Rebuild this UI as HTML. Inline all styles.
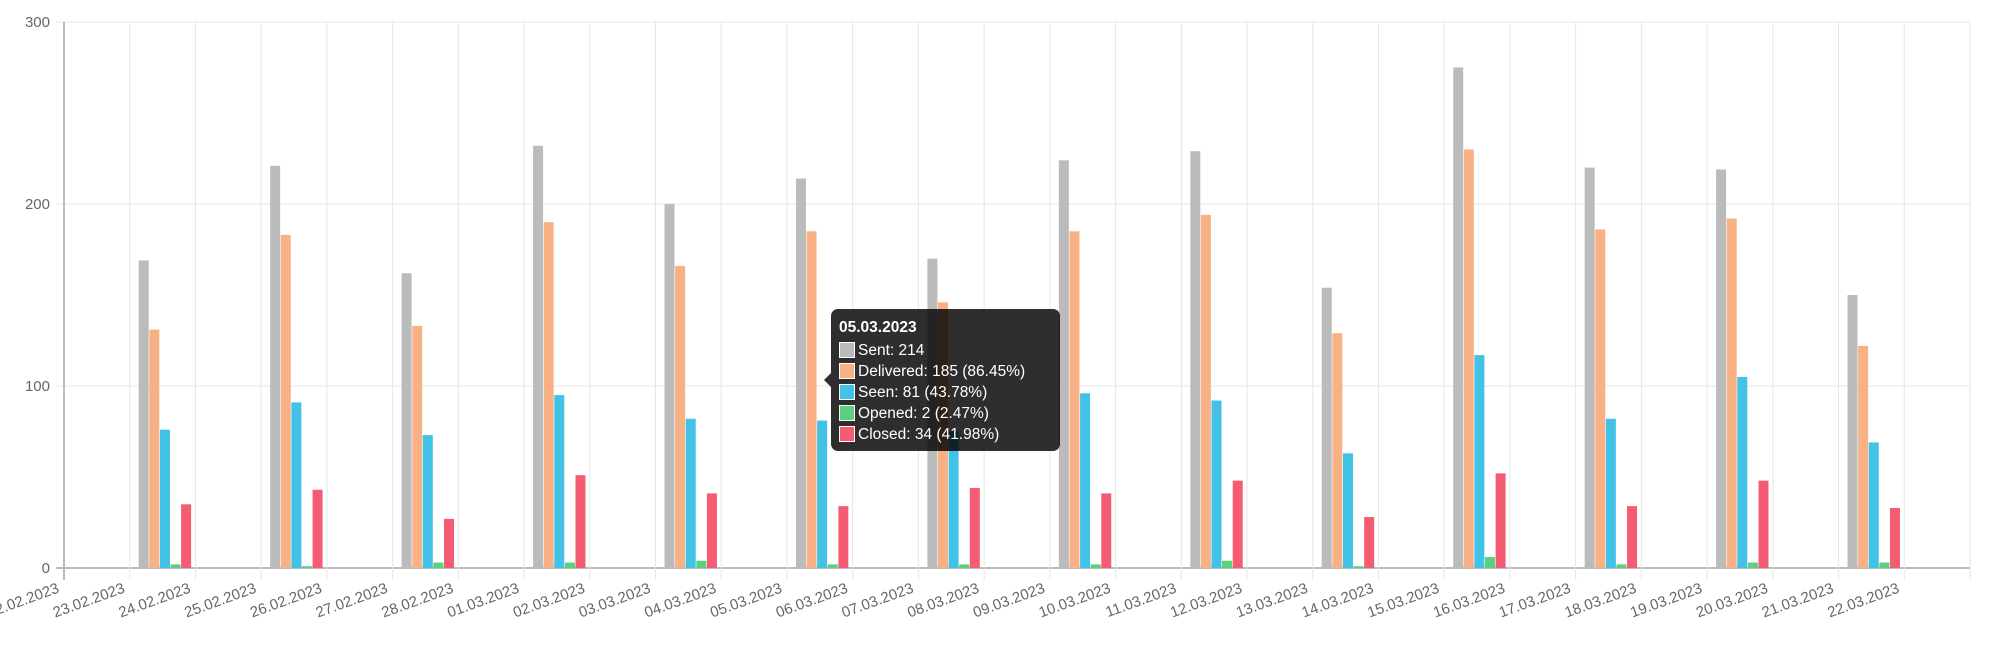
<!DOCTYPE html>
<html><head><meta charset="utf-8"><style>
html,body{margin:0;padding:0;background:#fff;}
svg{display:block;font-family:"Liberation Sans",Arial,sans-serif;}
</style></head><body>
<svg id="chart" width="1999" height="649"></svg>
<script>
const categories=["22.02.2023","23.02.2023","24.02.2023","25.02.2023","26.02.2023","27.02.2023","28.02.2023","01.03.2023","02.03.2023","03.03.2023","04.03.2023","05.03.2023","06.03.2023","07.03.2023","08.03.2023","09.03.2023","10.03.2023","11.03.2023","12.03.2023","13.03.2023","14.03.2023","15.03.2023","16.03.2023","17.03.2023","18.03.2023","19.03.2023","20.03.2023","21.03.2023","22.03.2023"];
const dataDays=[1,3,5,7,9,11,13,15,17,19,21,23,25,27];
const sent=[169,221,162,232,200,214,170,224,229,154,275,220,219,150];
const delivered=[131,183,133,190,166,185,146,185,194,129,230,186,192,122];
const seen=[76,91,73,95,82,81,75,96,92,63,117,82,105,69];
const opened=[2,1,3,3,4,2,2,2,4,1,6,2,3,3];
const closed=[35,43,27,51,41,34,44,41,48,28,52,34,48,33];
const yTicks=[0,100,200,300];
const NS="http://www.w3.org/2000/svg";
const svg=document.getElementById('chart');
const L=64,R=1970,T=22,B=568,nInt=29;
const x=i=>L+i*(R-L)/nInt;
const y=v=>B-(v/300)*(B-T);
function mk(tag,attrs,parent){const e=document.createElementNS(NS,tag);for(const k in attrs)e.setAttribute(k,attrs[k]);(parent||svg).appendChild(e);return e;}
// grid
yTicks.forEach(v=>{
  const g=mk('line',{x1:L-8,x2:R,y1:y(v),y2:y(v),stroke:v===0?'#bbb':'#e6e6e6','stroke-width':v===0?2:1});
  
  
  const t=mk('text',{x:L-14,y:y(v)+5,'text-anchor':'end','font-size':15,fill:'#666'});
  t.textContent=v;
  
  
});
for(let i=0;i<=nInt;i++){
  const g=mk('line',{x1:x(i),x2:x(i),y1:T,y2:B+12,stroke:i===0?'#bbb':'#e6e6e6','stroke-width':i===0?2:1});
  
  
}
categories.forEach((c,i)=>{
  const tx=x(i)-4,ty=B+24;
  const t=mk('text',{x:tx,y:ty,'text-anchor':'end','font-size':15,fill:'#666',transform:`rotate(-20 ${tx} ${ty})`});
  t.textContent=c;
  
  
});
const series=[[sent,'#bbbbbb','sent'],[delivered,'#f8b085','delivered'],[seen,'#42c2e6','seen'],[opened,'#5bd07e','opened'],[closed,'#f45c73','closed']];
const bw=10,step=10.6;
dataDays.forEach((d,k)=>{
  const gx=x(d)+9;
  series.forEach(([arr,col,nm],s)=>{
    const v=arr[k];
    const r=mk('rect',{x:gx+s*step,y:y(v),width:bw,height:B-y(v),fill:col});
    
    
  });
});
</script>
<div style="position:absolute;left:831px;top:309px;width:229px;height:142px;background:rgba(0,0,0,0.82);border-radius:7px;color:#fff;font-family:'Liberation Sans',Arial,sans-serif;font-size:15.5px;box-sizing:border-box;padding:9px 8px;">
<div style="position:absolute;left:-7px;top:64px;width:0;height:0;border-top:7px solid transparent;border-bottom:7px solid transparent;border-right:7px solid rgba(0,0,0,0.82);"></div>
<div style="font-weight:bold;line-height:20px;margin-bottom:2px;">05.03.2023</div>
<div style="line-height:21px;"><span style="display:inline-block;width:14px;height:14px;background:#bbb;border:1px solid #fff;vertical-align:-3px;margin-right:3px;"></span>Sent: 214</div>
<div style="line-height:21px;"><span style="display:inline-block;width:14px;height:14px;background:#f8b085;border:1px solid #fff;vertical-align:-3px;margin-right:3px;"></span>Delivered: 185 (86.45%)</div>
<div style="line-height:21px;"><span style="display:inline-block;width:14px;height:14px;background:#42c2e6;border:1px solid #fff;vertical-align:-3px;margin-right:3px;"></span>Seen: 81 (43.78%)</div>
<div style="line-height:21px;"><span style="display:inline-block;width:14px;height:14px;background:#5bd07e;border:1px solid #fff;vertical-align:-3px;margin-right:3px;"></span>Opened: 2 (2.47%)</div>
<div style="line-height:21px;"><span style="display:inline-block;width:14px;height:14px;background:#f45c73;border:1px solid #fff;vertical-align:-3px;margin-right:3px;"></span>Closed: 34 (41.98%)</div>
</div>
</body></html>
